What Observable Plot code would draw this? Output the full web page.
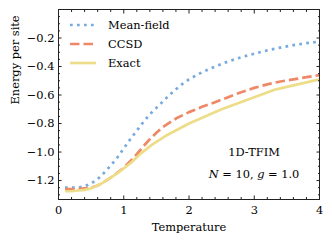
<!DOCTYPE html>
<html><head><meta charset="utf-8">
<script src="https://cdn.jsdelivr.net/npm/d3@7"></script>
<script src="https://cdn.jsdelivr.net/npm/@observablehq/plot@0.6"></script>
<style>
body{margin:0;background:#fff;}
#wrap{position:relative;width:332px;height:243px;font-family:"DejaVu Serif",serif;color:#000;}
#wrap svg{display:block;}
.legrow{position:absolute;left:70px;height:19px;display:flex;align-items:center;font-size:11.4px;white-space:nowrap;}
.legrow svg{margin-right:12px;}
.ann{position:absolute;font-size:11.4px;white-space:nowrap;transform:translate(-50%,-50%);}
</style></head><body><div id="wrap"></div>
<script>
const seriesNames = ["Mean-field", "CCSD", "Exact"];
const seriesColors = ["#77AADD", "#EE8866", "#EEDD88"];
const seriesDash = ["2.7 4.3", "9.5 4", null];

const tMeanField = [0.1,0.2,0.3,0.4,0.5,0.6,0.7,0.8,0.9,1.0,1.1,1.2,1.3,1.4,1.5,1.6,1.7,1.8,1.9,2.0,2.2,2.4,2.6,2.8,3.0,3.2,3.4,3.6,3.8,4.0];
const eMeanField = [-1.25,-1.25,-1.25,-1.24,-1.22,-1.19,-1.145,-1.095,-1.04,-0.975,-0.91,-0.85,-0.79,-0.735,-0.69,-0.645,-0.60,-0.56,-0.522,-0.49,-0.44,-0.40,-0.365,-0.335,-0.31,-0.287,-0.267,-0.25,-0.236,-0.225];

const tCCSD = [0.1,0.2,0.3,0.4,0.5,0.6,0.7,0.8,0.9,1.0,1.1,1.2,1.3,1.4,1.5,1.6,1.8,2.0,2.2,2.4,2.6,2.8,3.0,3.2,3.4,3.6,3.8,4.0];
const eCCSD = [-1.26,-1.26,-1.26,-1.255,-1.25,-1.235,-1.21,-1.18,-1.145,-1.11,-1.065,-1.015,-0.96,-0.91,-0.865,-0.825,-0.765,-0.72,-0.683,-0.65,-0.615,-0.58,-0.55,-0.525,-0.505,-0.49,-0.475,-0.46];

const tExact = [0.1,0.2,0.3,0.4,0.5,0.6,0.7,0.8,0.9,1.0,1.111,1.25,1.429,1.667,2.0,2.5,3.333,4.0];
const eExact = [-1.275,-1.275,-1.27,-1.265,-1.255,-1.235,-1.21,-1.18,-1.15,-1.115,-1.075,-1.015,-0.95,-0.88,-0.80,-0.70,-0.56,-0.49];

const xTicks = [0,1,2,3,4];
const xMinorTicks = [0.2,0.4,0.6,0.8,1.2,1.4,1.6,1.8,2.2,2.4,2.6,2.8,3.2,3.4,3.6,3.8];
const yTicks = [-1.2,-1.0,-0.8,-0.6,-0.4,-0.2];
const yMinorTicks = [-1.3,-1.25,-1.15,-1.1,-1.05,-0.95,-0.9,-0.85,-0.75,-0.7,-0.65,-0.55,-0.5,-0.45,-0.35,-0.3,-0.25,-0.15,-0.1,-0.05];
const xLabel = "Temperature";
const yLabel = "Energy per site";
const annotation1 = "1D-TFIM";

const tables = [
  tMeanField.map((t,i)=>({T:t,E:eMeanField[i]})),
  tCCSD.map((t,i)=>({T:t,E:eCCSD[i]})),
  tExact.map((t,i)=>({T:t,E:eExact[i]}))
];

const lineMarks = tables.map((data,i)=>Plot.line(data,{x:"T",y:"E",stroke:seriesColors[i],strokeWidth:2.7,
  strokeDasharray:seriesDash[i]||undefined,strokeLinecap:"butt",strokeLinejoin:"round"}));

const plot = Plot.plot({
  width:332, height:243,
  marginLeft:58, marginRight:13, marginTop:9, marginBottom:44,
  style:{fontFamily:"DejaVu Serif, serif", fontSize:"11.4px", color:"#000", background:"transparent", overflow:"visible"},
  x:{domain:[0,4]},
  y:{domain:[-1.333,0]},
  marks:[
    ...lineMarks,
    Plot.frame({stroke:"#222", strokeWidth:1}),
    Plot.axisX({ticks:xTicks, tickSize:0, tickPadding:6, tickFormat:"d", label:null}),
    Plot.axisX({ticks:xTicks, tickSize:-3.5, text:null, label:null, stroke:"#222"}),
    Plot.axisX({anchor:"top", ticks:xTicks, tickSize:-3.5, text:null, label:null, stroke:"#222"}),
    Plot.axisX({ticks:xMinorTicks, tickSize:-2, text:null, label:null, stroke:"#222"}),
    Plot.axisX({anchor:"top", ticks:xMinorTicks, tickSize:-2, text:null, label:null, stroke:"#222"}),
    Plot.axisY({ticks:yTicks, tickSize:0, tickPadding:4, tickFormat:".1f", label:null}),
    Plot.axisY({ticks:yTicks, tickSize:-3.5, text:null, label:null, stroke:"#222"}),
    Plot.axisY({anchor:"right", ticks:yTicks, tickSize:-3.5, text:null, label:null, stroke:"#222"}),
    Plot.axisY({ticks:yMinorTicks, tickSize:-2, text:null, label:null, stroke:"#222"}),
    Plot.axisY({anchor:"right", ticks:yMinorTicks, tickSize:-2, text:null, label:null, stroke:"#222"}),
    Plot.text([xLabel], {frameAnchor:"bottom", dy:28, text:d=>d, lineAnchor:"middle", fontSize:11.4}),
    Plot.text([yLabel], {frameAnchor:"left", dx:-43, rotate:-90, text:d=>d, lineAnchor:"middle", fontSize:11.4})
  ]
});

const wrap = document.getElementById("wrap");
wrap.appendChild(plot);

// legend
seriesNames.forEach((name,i)=>{
  const row = document.createElement("div");
  row.className = "legrow";
  row.style.top = (15.5 + 19*i) + "px";
  const dash = seriesDash[i] ? `stroke-dasharray="${seriesDash[i]}"` : "";
  row.innerHTML = `<svg width="26" height="6"><line x1="0" x2="26" y1="3" y2="3" stroke="${seriesColors[i]}" stroke-width="2.7" ${dash}/></svg><span>${name}</span>`;
  wrap.appendChild(row);
});

// annotations
const a1 = document.createElement("div");
a1.className = "ann"; a1.style.left = "254px"; a1.style.top = "152px";
a1.textContent = annotation1;
wrap.appendChild(a1);
const a2 = document.createElement("div");
a2.className = "ann"; a2.style.left = "254px"; a2.style.top = "174px";
a2.innerHTML = "<i>N</i> = 10, <i>g</i> = 1.0";
wrap.appendChild(a2);
</script>
</body></html>
